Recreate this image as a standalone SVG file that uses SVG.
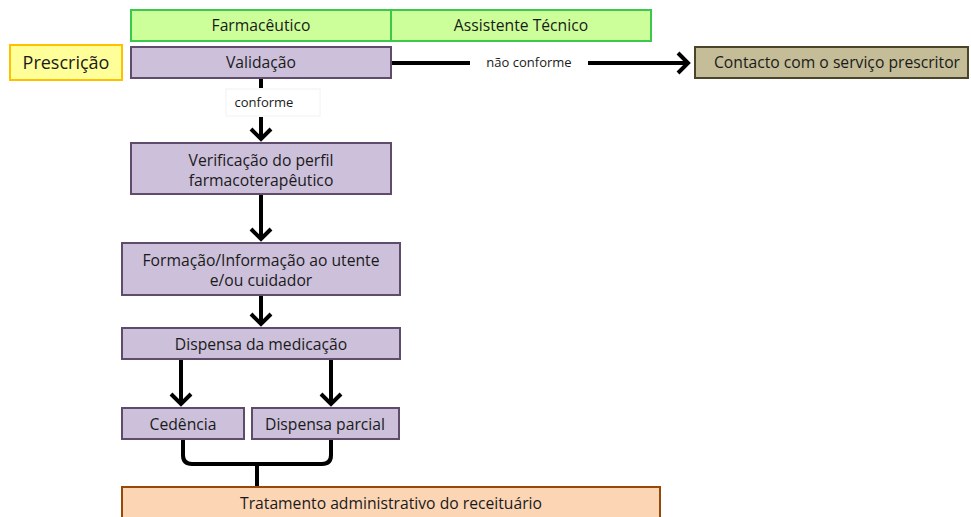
<svg xmlns="http://www.w3.org/2000/svg" width="971" height="517" viewBox="0 0 971 517">
<style>
text{font-family:"Open Sans","Liberation Sans",sans-serif;fill:#1a1a1a;text-anchor:middle}
.t{font-size:15.7px}
.s{font-size:13px}
.hdr{fill:#ccff99;stroke:#3cc84a;stroke-width:2}
.p{fill:#ccc0da;stroke:#5f4b6b;stroke-width:2}
.c{fill:none;stroke:#000;stroke-width:4}
</style>
<defs>
<marker id="arr" viewBox="-14 -12 18 24" refX="0" refY="0" markerWidth="18" markerHeight="24" markerUnits="userSpaceOnUse" orient="auto">
<path d="M -10 -10 L 0 0 L -10 10" fill="none" stroke="#000" stroke-width="4"/>
</marker>
</defs>
<g id="connectors">
<path class="c" d="M391 63 H470"/>
<path class="c" d="M588 63 H688" marker-end="url(#arr)"/>
<path class="c" d="M261 78 V88"/>
<path class="c" d="M261 117 V139" marker-end="url(#arr)"/>
<path class="c" d="M261 194 V239" marker-end="url(#arr)"/>
<path class="c" d="M261 295 V324" marker-end="url(#arr)"/>
<path class="c" d="M181 359 V404" marker-end="url(#arr)"/>
<path class="c" d="M331 359 V404" marker-end="url(#arr)"/>
<path class="c" d="M183 439 V455 Q183 464 192 464 H322 Q331 464 331 455 V439"/>
<path class="c" d="M257 464 V487"/>
</g>
<g id="farmaceutico"><rect class="hdr" x="131" y="10" width="260" height="31"/><text class="t" x="261" y="31">Farmacêutico</text></g>
<g id="assistente"><rect class="hdr" x="391" y="10" width="260" height="31"/><text class="t" x="521" y="31">Assistente Técnico</text></g>
<g id="prescricao"><rect x="10" y="45" width="112" height="35" fill="#ffff99" stroke="#ffc000" stroke-width="2"/><text x="66" y="69" style="font-size:18px">Prescrição</text></g>
<g id="validacao"><rect class="p" x="131" y="47" width="260" height="31"/><text class="t" x="261" y="68">Validação</text></g>
<g id="nao-conforme-label"><text class="s" x="529" y="67">não conforme</text></g>
<g id="conforme-label"><rect x="226" y="89" width="94" height="27" fill="#fff" stroke="#f2f2f2" stroke-width="1"/><text class="s" x="264" y="107">conforme</text></g>
<g id="contacto"><rect x="695" y="47" width="273" height="31" fill="#c4bd97" stroke="#4a452a" stroke-width="2"/><text class="t" x="837" y="68">Contacto com o serviço prescritor</text></g>
<g id="verificacao"><rect class="p" x="131" y="143" width="260" height="51"/><text class="t" x="261" y="166">Verificação do perfil</text><text class="t" x="261" y="186">farmacoterapêutico</text></g>
<g id="formacao"><rect class="p" x="122" y="243" width="278" height="52"/><text class="t" x="261" y="266">Formação/Informação ao utente</text><text class="t" x="261" y="286">e/ou cuidador</text></g>
<g id="dispensa"><rect class="p" x="122" y="328" width="278" height="31"/><text class="t" x="261" y="350">Dispensa da medicação</text></g>
<g id="cedencia"><rect class="p" x="122" y="408" width="122" height="31"/><text class="t" x="183" y="430">Cedência</text></g>
<g id="dispensa-parcial"><rect class="p" x="252" y="408" width="147" height="31"/><text class="t" x="325" y="430">Dispensa parcial</text></g>
<g id="tratamento"><rect x="122" y="487" width="538" height="40" fill="#fcd5b5" stroke="#984807" stroke-width="2"/><text class="t" x="391" y="509">Tratamento administrativo do receituário</text></g>
</svg>
